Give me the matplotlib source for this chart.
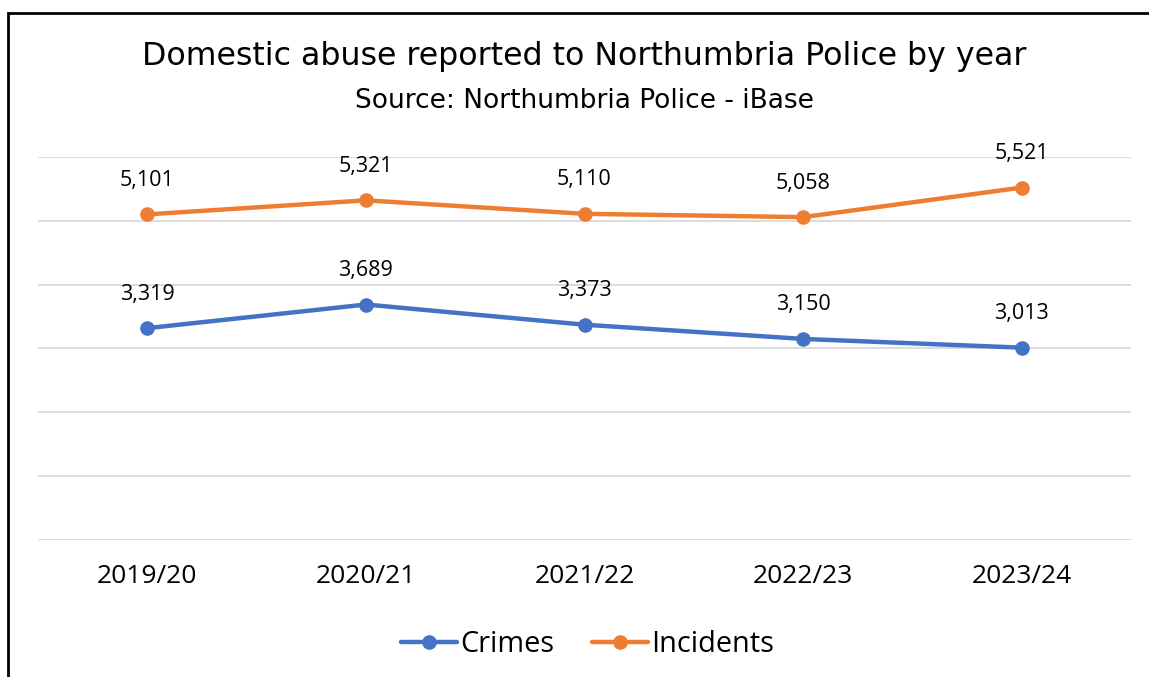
import matplotlib.pyplot as plt
from matplotlib.patches import Rectangle

plt.rcParams['font.family'] = ['Open Sans', 'DejaVu Sans']

# Chart data
years = ['2019/20', '2020/21', '2021/22', '2022/23', '2023/24']
crimes = [3319, 3689, 3373, 3150, 3013]
incidents = [5101, 5321, 5110, 5058, 5521]

W, H = 1149, 677
fig = plt.figure(figsize=(W / 100, H / 100), dpi=100)
# plot area in pixels: x 38..1131, y 157..540
ax = fig.add_axes([38 / W, 1 - 540 / H, (1131 - 38) / W, (540 - 157) / H])

x = list(range(len(years)))
blue = '#4472C4'
orange = '#ED7D31'
ax.plot(x, crimes, color=blue, lw=3.2, marker='o', ms=9.5, label='Crimes',
        solid_capstyle='round', zorder=3)
ax.plot(x, incidents, color=orange, lw=3.2, marker='o', ms=9.5, label='Incidents',
        solid_capstyle='round', zorder=3)

for series in (crimes, incidents):
    for xi, v in zip(x, series):
        ax.annotate(f'{v:,}', (xi, v), xytext=(0, 20.5), textcoords='offset points',
                    ha='center', va='baseline', fontsize=15.5)

ax.set_xlim(-0.5, len(years) - 0.5)
ax.set_ylim(0, 6000)
ax.set_yticks(range(0, 6001, 1000))
ax.yaxis.grid(True, color='#D9D9D9', lw=1.3)
ax.set_axisbelow(True)
ax.tick_params(axis='y', left=False, labelleft=False)
ax.tick_params(axis='x', bottom=False, labelsize=19, pad=14)
ax.set_xticks(x)
ax.set_xticklabels(years)
for s in ax.spines.values():
    s.set_visible(False)

fig.text(584 / W, 1 - 57 / H, 'Domestic abuse reported to Northumbria Police by year',
         ha='center', va='center', fontsize=22.8, family='DejaVu Sans')
fig.text(584 / W, 1 - 101 / H, 'Source: Northumbria Police - iBase',
         ha='center', va='center', fontsize=19, family='DejaVu Sans')

ax.legend(loc='center', bbox_to_anchor=(0.5 + 3 / 1093, (540 - 645) / (540 - 157)),
          ncol=2, frameon=False, fontsize=20.8, handlelength=1.95,
          handletextpad=0.1, columnspacing=1.3)

# outer chart border (cropped at right and bottom)
fig.add_artist(Rectangle((8 / W, -0.1), 1.2, 1.1 - 13 / H,
                         transform=fig.transFigure, fill=False,
                         edgecolor='black', lw=2, clip_on=False))

fig.savefig('out.png', dpi=100)
